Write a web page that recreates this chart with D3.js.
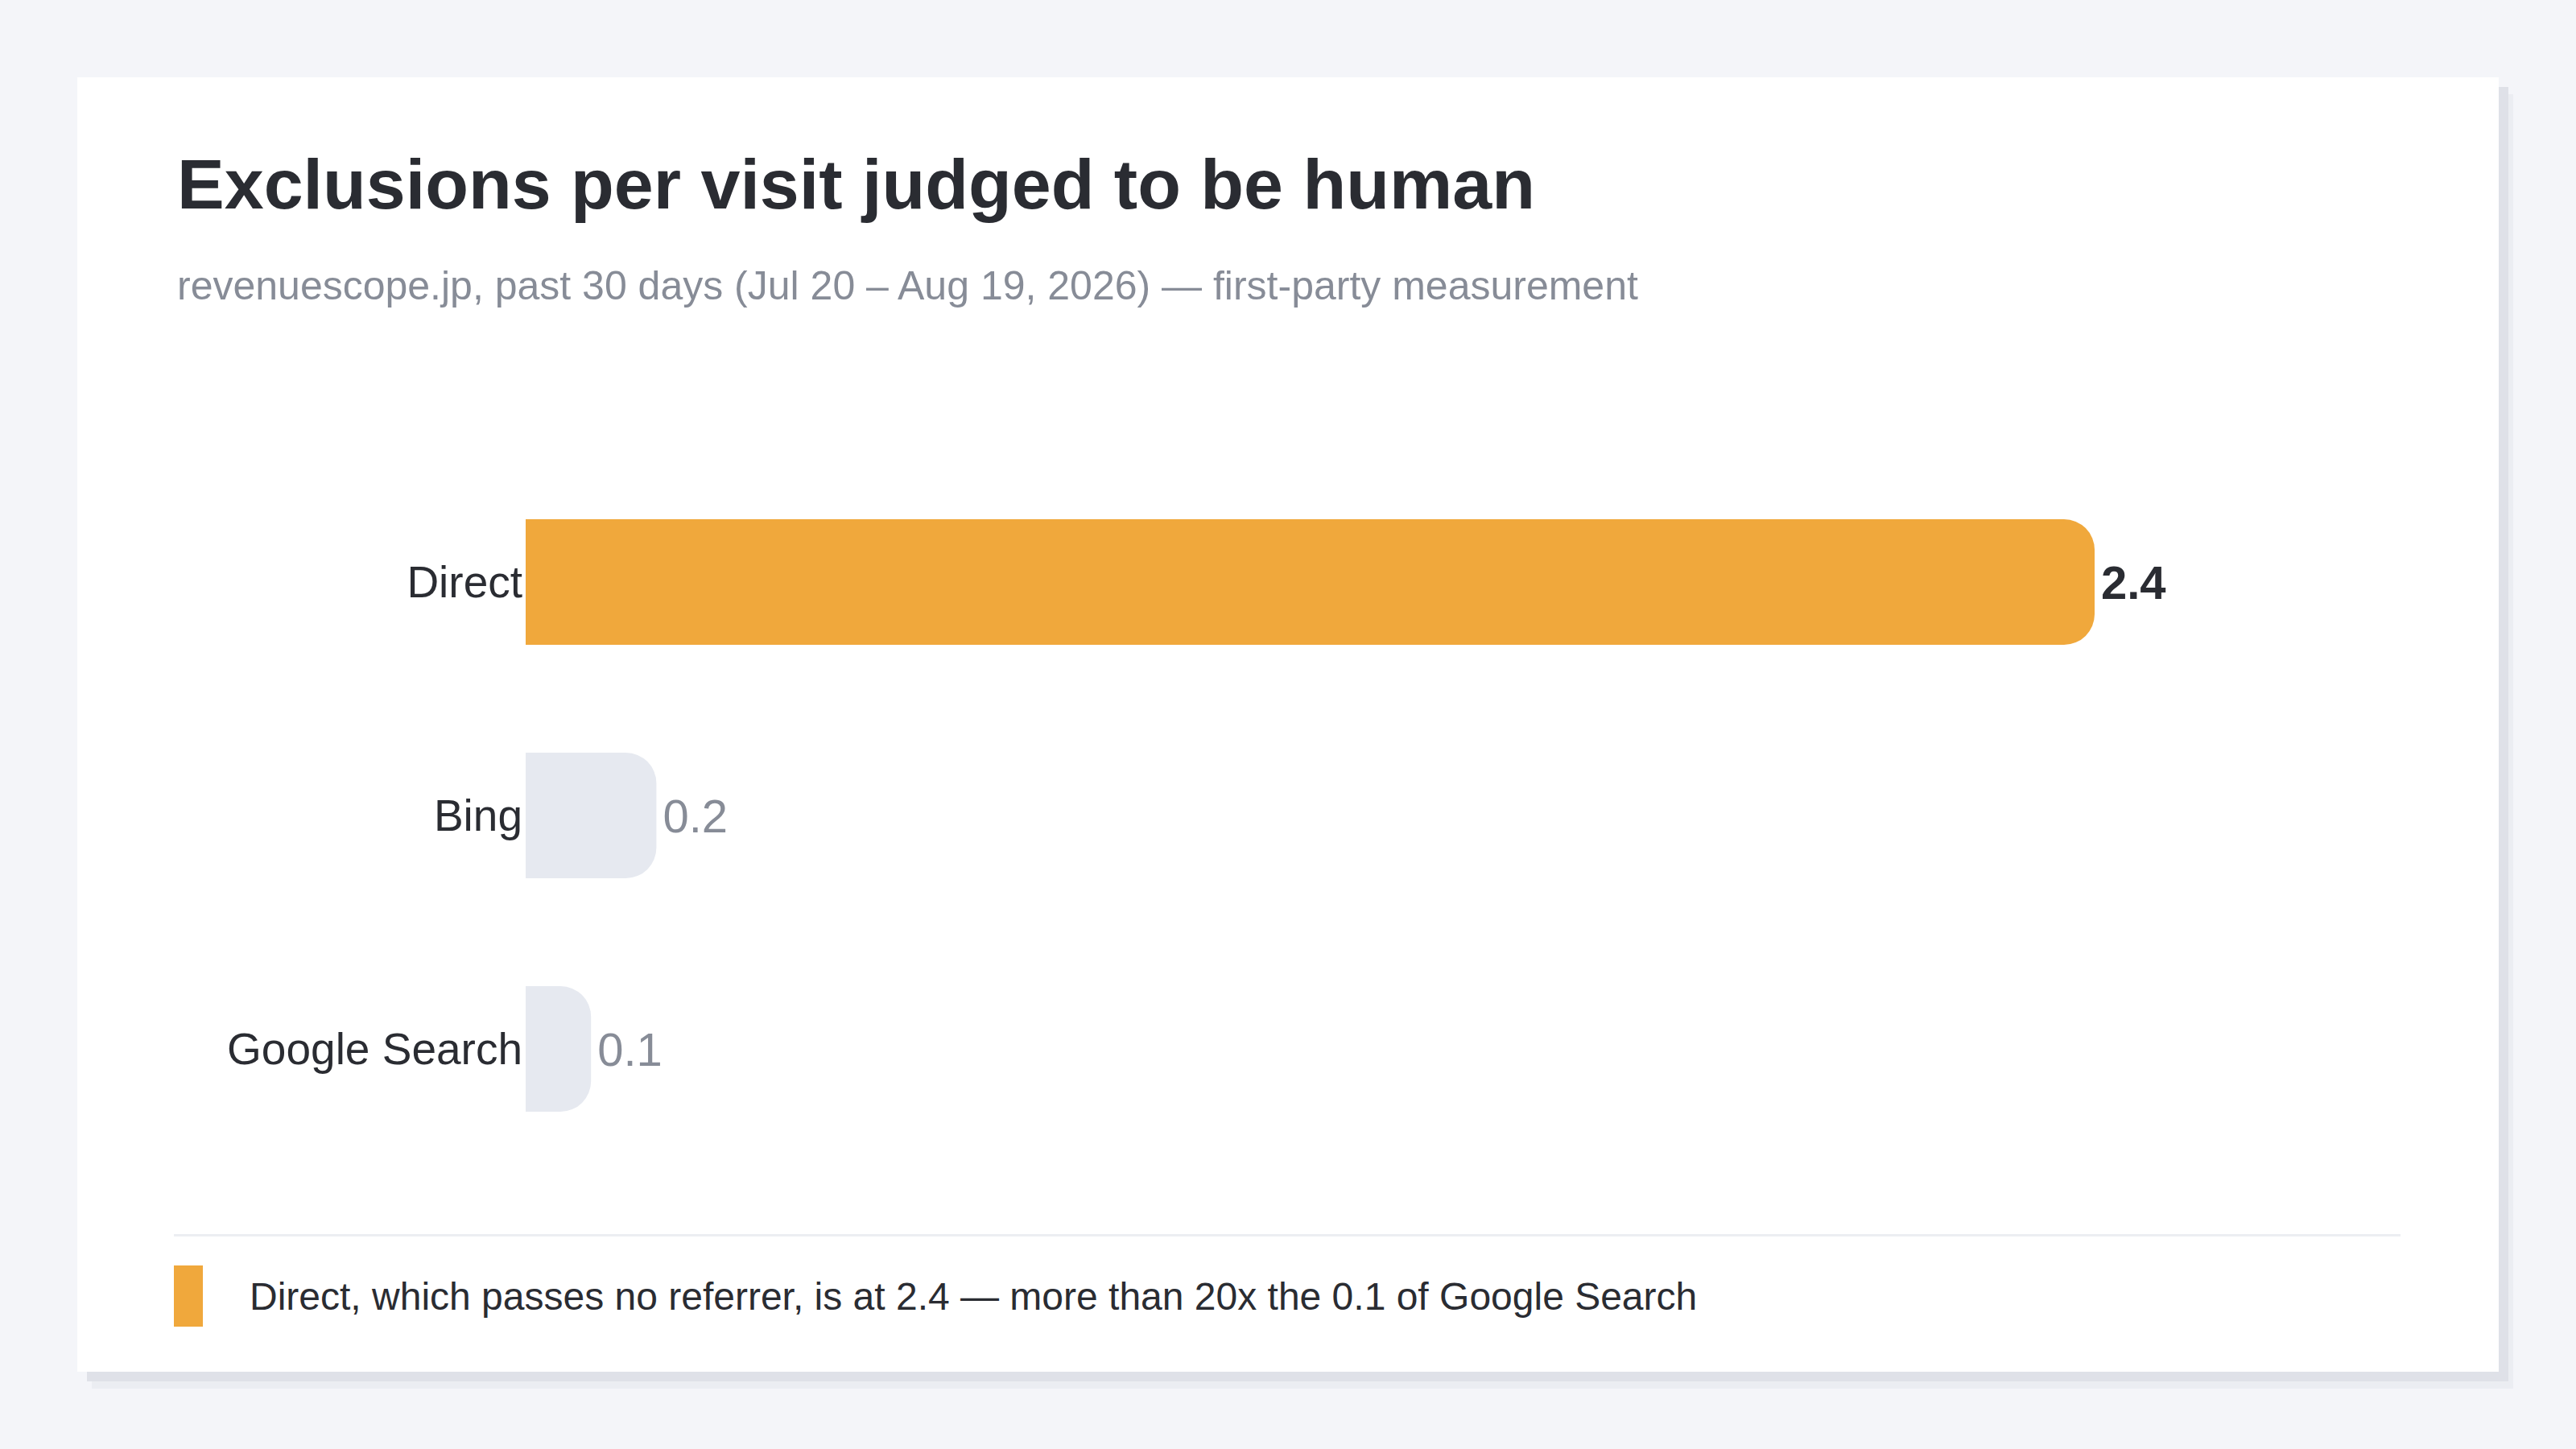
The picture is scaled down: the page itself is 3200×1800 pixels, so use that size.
<!DOCTYPE html>
<html>
<head>
<meta charset="utf-8">
<script src="https://cdn.jsdelivr.net/npm/d3@7"></script>
<style>
  html, body { margin: 0; padding: 0; background: #f4f5f9; }
  body { width: 3200px; height: 1800px; overflow: hidden; font-family: "Liberation Sans", Arial, Helvetica, sans-serif; }
  svg { display: block; }
</style>
</head>
<body>
<svg id="chart" width="3200" height="1800"></svg>
<script>
const categories = ["Direct", "Bing", "Google Search"];
const values = [2.4, 0.2, 0.1];
const highlight = ["Direct"];
const title = "Exclusions per visit judged to be human";
const subtitle = "revenuescope.jp, past 30 days (Jul 20 \u2013 Aug 19, 2026) \u2014 first-party measurement";
const note = "Direct, which passes no referrer, is at 2.4 \u2014 more than 20x the 0.1 of Google Search";

const svg = d3.select("#chart");
const FONT = '"Liberation Sans", Arial, Helvetica, sans-serif';

// card shadow + card
svg.append("rect").attr("x", 96 + 18).attr("y", 96 + 21).attr("width", 3008).attr("height", 1608).attr("fill", "#ebedf2");
svg.append("rect").attr("x", 96 + 12).attr("y", 96 + 12).attr("width", 3008).attr("height", 1608).attr("fill", "#dfe1e8");
svg.append("rect").attr("x", 96).attr("y", 96).attr("width", 3008).attr("height", 1608).attr("fill", "#ffffff");

// titles
svg.append("text").attr("x", 220).attr("y", 259)
  .attr("font-family", FONT).attr("font-weight", 700).attr("font-size", 88)
  .attr("fill", "#2a2c32").text(title);
svg.append("text").attr("x", 220).attr("y", 372)
  .attr("font-family", FONT).attr("font-size", 50)
  .attr("fill", "#878c97").text(subtitle);

// scales
const x = d3.scaleLinear().domain([0, 2.4]).range([653, 2602]);
const y = d3.scaleBand().domain(categories).range([578, 1448]).paddingInner(0.462).paddingOuter(0.231);

const data = categories.map((c, i) => ({ cat: c, val: values[i] }));

function barPath(x0, x1, y0, h, r) {
  const w = x1 - x0;
  r = Math.min(r, w, h / 2);
  return `M${x0},${y0}H${x1 - r}A${r},${r} 0 0 1 ${x1},${y0 + r}V${y0 + h - r}A${r},${r} 0 0 1 ${x1 - r},${y0 + h}H${x0}Z`;
}

const g = svg.append("g");
g.selectAll("path.bar").data(data).join("path")
  .attr("class", "bar")
  .attr("d", d => barPath(x(0), x(d.val), y(d.cat), y.bandwidth(), 38))
  .attr("fill", d => highlight.includes(d.cat) ? "#f0a83c" : "#e6e9f0");

// category labels
g.selectAll("text.cat").data(data).join("text")
  .attr("class", "cat")
  .attr("x", x(0) - 4)
  .attr("y", d => y(d.cat) + y.bandwidth() / 2)
  .attr("dy", "0.35em")
  .attr("text-anchor", "end")
  .attr("font-family", FONT).attr("font-size", 55)
  .attr("fill", "#2a2c32")
  .text(d => d.cat);

// value labels
g.selectAll("text.val").data(data).join("text")
  .attr("class", "val")
  .attr("x", d => x(d.val) + 8)
  .attr("y", d => y(d.cat) + y.bandwidth() / 2)
  .attr("dy", "0.36em")
  .attr("font-family", FONT).attr("font-size", 58)
  .attr("font-weight", d => highlight.includes(d.cat) ? 700 : 400)
  .attr("fill", d => highlight.includes(d.cat) ? "#2a2c32" : "#878c97")
  .text(d => d3.format(".1f")(d.val));

// divider
svg.append("rect").attr("x", 216).attr("y", 1533).attr("width", 2766).attr("height", 3).attr("fill", "#eceef2");

// legend note
svg.append("rect").attr("x", 216).attr("y", 1572).attr("width", 36).attr("height", 76).attr("fill", "#f0a83c");
svg.append("text").attr("x", 310).attr("y", 1627)
  .attr("font-family", FONT).attr("font-size", 48)
  .attr("fill", "#2a2c32").text(note);
</script>
</body>
</html>
